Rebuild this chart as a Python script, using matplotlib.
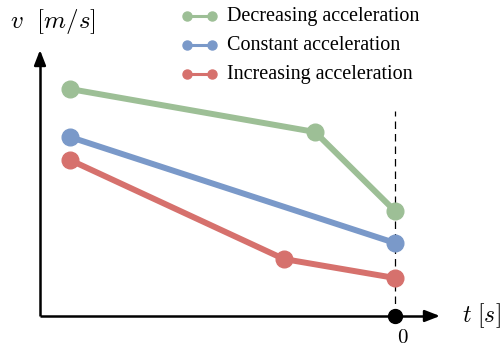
import matplotlib.pyplot as plt

plt.rcParams['mathtext.fontset'] = 'cm'

# time [s] (0 = now) and velocity [m/s] for each scenario
t_dec = [-10.0, -2.46, 0.0]
v_dec = [11.35, 9.2, 5.25]
t_const = [-10.0, 0.0]
v_const = [8.95, 3.65]
t_inc = [-10.0, -3.42, 0.0]
v_inc = [7.8, 2.85, 1.9]

labels = ["Decreasing acceleration", "Constant acceleration", "Increasing acceleration"]
green = "#9dbf96"
blue = "#7a99c9"
red = "#d6716d"

W, H = 501, 349
fig = plt.figure(figsize=(W / 100, H / 100), dpi=100)
ax = fig.add_axes([0, 0, 1, 1])
ax.set_xlim(-12.154, 3.262)
ax.set_ylim(-1.65, 15.8)
ax.axis('off')

# axes with arrow heads
ax.plot([-10.923, 1.0], [0, 0], color='black', lw=1.8, solid_capstyle='butt', zorder=2)
ax.annotate('', xy=(1.385, 0), xytext=(1.0, 0),
            arrowprops=dict(arrowstyle='-|>,head_length=0.9,head_width=0.35',
                            color='black', lw=1.8, shrinkA=0, shrinkB=0))
ax.plot([-10.923, -10.923], [0, 12.6], color='black', lw=1.8, solid_capstyle='butt', zorder=2)
ax.annotate('', xy=(-10.923, 13.3), xytext=(-10.923, 12.6),
            arrowprops=dict(arrowstyle='-|>,head_length=0.9,head_width=0.35',
                            color='black', lw=1.8, shrinkA=0, shrinkB=0))

# present time marker
ax.plot([0, 0], [0, 10.25], color='black', lw=0.9, ls=(0, (6, 4)), zorder=1)
ax.plot(0, 0, 'o', color='black', ms=10, zorder=5)

ax.plot(t_dec, v_dec, '-o', color=green, lw=4.3, ms=12, zorder=3)
ax.plot(t_const, v_const, '-o', color=blue, lw=4.3, ms=12, zorder=3)
ax.plot(t_inc, v_inc, '-o', color=red, lw=4.3, ms=12, zorder=3)

ax.text(0.25, -1.05, '$0$', ha='center', va='center', fontsize=15)
ax.text(2.05, 0, r'$t\,\,[s]$', ha='left', va='center', fontsize=17)
ax.text(10 / W, 1 - 22 / H, r'$v\ \ [m/s]$', ha='left', va='center',
        fontsize=18, transform=ax.transAxes)

# hand-placed legend in the top right
for i, (lab, col) in enumerate(zip(labels, (green, blue, red))):
    y = 1 - (16 + 29 * i) / H
    ax.plot([187 / W, 212 / W], [y, y], '-o', color=col, lw=2.2, ms=6.5,
            transform=ax.transAxes, clip_on=False)
    ax.text(227 / W, y, lab, ha='left', va='center', fontsize=14.5,
            family='Liberation Serif', transform=ax.transAxes)

fig.savefig('out.png', dpi=100)
